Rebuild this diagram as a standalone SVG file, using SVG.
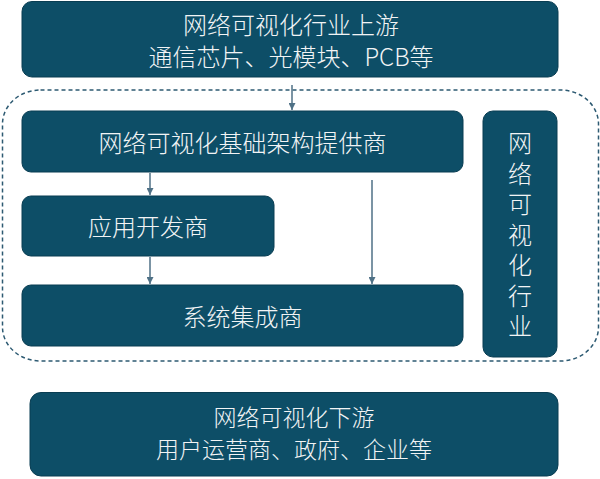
<svg xmlns="http://www.w3.org/2000/svg" width="600" height="479" viewBox="0 0 600 479">
<style>
.box{fill:#0d4e67;stroke:#093d52;stroke-width:1}
.t{font-family:"Noto Sans CJK SC","Liberation Sans",sans-serif;font-size:24px;font-weight:300;fill:#f2f4f5;text-anchor:middle}
.v{writing-mode:vertical-rl;letter-spacing:6.5px}
.c{stroke:#4f7186;stroke-width:1.5;fill:none}
</style>
<defs>
<marker id="ah" viewBox="0 0 10 10" refX="10" refY="5" markerWidth="7" markerHeight="7" markerUnits="userSpaceOnUse" orient="auto">
<path d="M0,0 L10,5 L0,10 z" fill="#4f7186"/>
</marker>
</defs>
<rect x="2.5" y="90" width="596" height="271" rx="38" ry="34" fill="none" stroke="#2d5a72" stroke-width="1.5" stroke-dasharray="4,3"/>
<g id="upstream">
<rect class="box" x="22" y="1.5" width="536" height="75.5" rx="10"/>
<text class="t" x="291" y="33.5">网络可视化行业上游</text>
<text class="t" x="291" y="65.5">通信芯片、光模块、PCB等</text>
</g>
<g id="infra">
<rect class="box" x="22" y="111" width="441" height="61" rx="9"/>
<text class="t" x="242.5" y="151.5">网络可视化基础架构提供商</text>
</g>
<g id="appdev">
<rect class="box" x="22" y="196" width="252" height="60" rx="9"/>
<text class="t" x="148" y="236">应用开发商</text>
</g>
<g id="integrator">
<rect class="box" x="22" y="285" width="441" height="61" rx="9"/>
<text class="t" x="242.5" y="326">系统集成商</text>
</g>
<g id="industry">
<rect class="box" x="483" y="111" width="74" height="246" rx="10"/>
<text class="t v" x="520" y="238">网络可视化行业</text>
</g>
<g id="downstream">
<rect class="box" x="30" y="392.5" width="528" height="83.5" rx="11"/>
<text class="t" x="294" y="426" style="font-size:23px">网络可视化下游</text>
<text class="t" x="294" y="457.5" style="font-size:23px">用户运营商、政府、企业等</text>
</g>
<g id="connectors">
<line class="c" x1="292" y1="85" x2="292" y2="110" marker-end="url(#ah)"/>
<line class="c" x1="150" y1="173" x2="150" y2="195" marker-end="url(#ah)"/>
<line class="c" x1="150" y1="257" x2="150" y2="284" marker-end="url(#ah)"/>
<line class="c" x1="372" y1="180" x2="372" y2="284" marker-end="url(#ah)"/>
</g>
</svg>
